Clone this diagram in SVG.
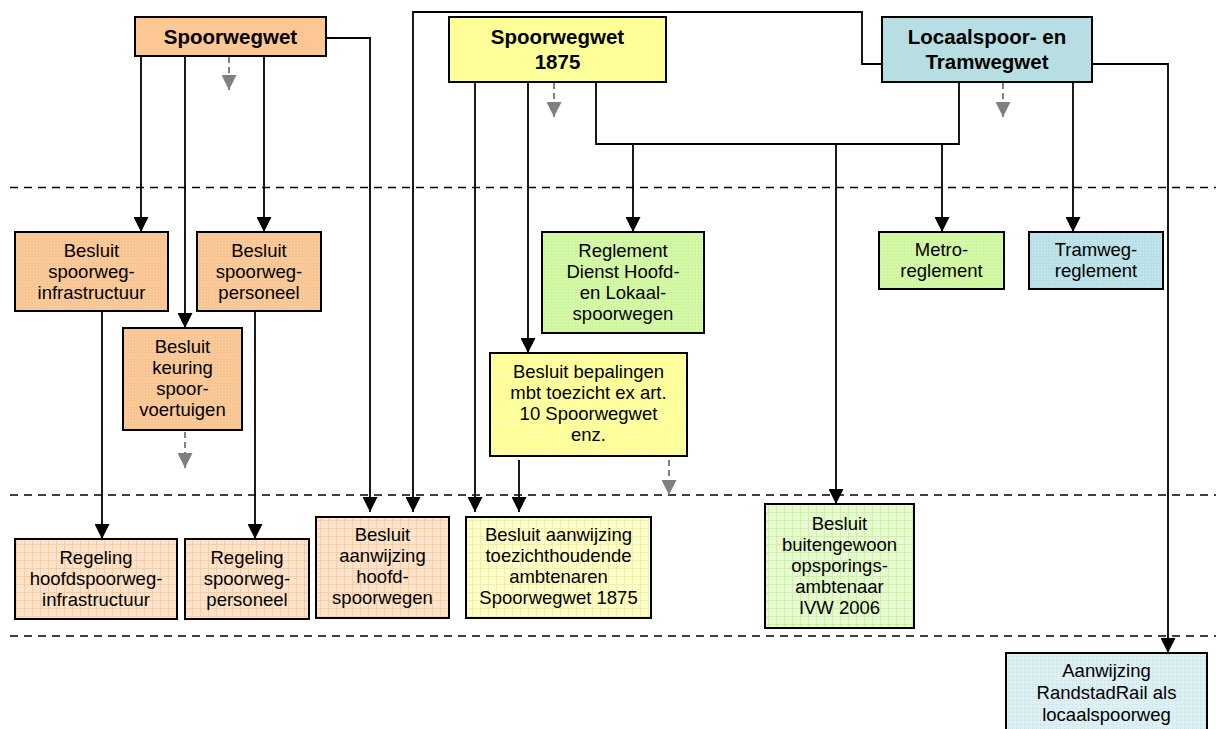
<svg xmlns="http://www.w3.org/2000/svg" width="1216" height="729" viewBox="0 0 1216 729">
<style>
.box{stroke:#000;stroke-width:2}
.t{font-family:"Liberation Sans",Arial,sans-serif;font-size:18.5px;fill:#000;text-anchor:middle}
.h{font-family:"Liberation Sans",Arial,sans-serif;font-size:20.5px;font-weight:bold;fill:#000;text-anchor:middle}
.c{fill:none;stroke:#000;stroke-width:1.8}
.g{fill:none;stroke:#808080;stroke-width:2;stroke-dasharray:6 4}
.sep{fill:none;stroke:#000;stroke-width:1.5;stroke-dasharray:8 6}
</style>
<defs>
<marker id="a" markerUnits="userSpaceOnUse" markerWidth="15" markerHeight="15" viewBox="0 0 15 15" refX="15" refY="7.5" orient="auto"><path d="M0 0 L15 7.5 L0 15 z" fill="#000"/></marker>
<marker id="ag" markerUnits="userSpaceOnUse" markerWidth="15" markerHeight="15" viewBox="0 0 15 15" refX="15" refY="7.5" orient="auto"><path d="M0 0 L15 7.5 L0 15 z" fill="#808080"/></marker>
<pattern id="p2o" width="3" height="3" patternUnits="userSpaceOnUse"><rect width="3" height="3" fill="#F9C593"/><rect width="1" height="1" fill="#FCD8B4"/></pattern>
<pattern id="p2y" width="3" height="3" patternUnits="userSpaceOnUse"><rect width="3" height="3" fill="#FFFF99"/><rect width="1" height="1" fill="#FFFFC4"/></pattern>
<pattern id="p2g" width="3" height="3" patternUnits="userSpaceOnUse"><rect width="3" height="3" fill="#CFF7A0"/><rect width="1" height="1" fill="#E6FBCB"/></pattern>
<pattern id="p2b" width="3" height="3" patternUnits="userSpaceOnUse"><rect width="3" height="3" fill="#B9DFE7"/><rect width="1" height="1" fill="#D6EDF2"/></pattern>
<pattern id="p3o" width="8" height="8" patternUnits="userSpaceOnUse"><rect width="8" height="8" fill="#FDE3CC"/><path d="M0 0.5 H8 M0.5 0 V8" stroke="#F7CDA6" stroke-width="1"/></pattern>
<pattern id="p3y" width="8" height="8" patternUnits="userSpaceOnUse"><rect width="8" height="8" fill="#FFFFCC"/><path d="M0 0.5 H8 M0.5 0 V8" stroke="#F5F0A8" stroke-width="1"/></pattern>
<pattern id="p3g" width="8" height="8" patternUnits="userSpaceOnUse"><rect width="8" height="8" fill="#E6FBD2"/><path d="M0 0.5 H8 M0.5 0 V8" stroke="#CDEFAA" stroke-width="1"/></pattern>
<pattern id="p3b" width="4" height="4" patternUnits="userSpaceOnUse"><rect width="4" height="4" fill="#DCEFF3"/><rect width="1" height="1" fill="#BFE0E8"/></pattern>
</defs>
<rect width="1216" height="729" fill="#fff"/>
<g id="separators">
<path class="sep" d="M10 187.5 H1216"/>
<path class="sep" d="M10 495 H1216"/>
<path class="sep" d="M10 636 H1216"/>
</g>
<g id="connectors">
<path class="c" d="M141 56 V232" marker-end="url(#a)"/>
<path class="c" d="M185 56 V328" marker-end="url(#a)"/>
<path class="c" d="M264 56 V232" marker-end="url(#a)"/>
<path class="g" d="M229 57 V90" marker-end="url(#ag)"/>
<path class="c" d="M326 38 H370 V512" marker-end="url(#a)"/>
<path class="c" d="M882 64 H862 V12 H413 V512" marker-end="url(#a)"/>
<path class="c" d="M475 82 V512" marker-end="url(#a)"/>
<path class="c" d="M528 82 V353" marker-end="url(#a)"/>
<path class="g" d="M554 83 V117" marker-end="url(#ag)"/>
<path class="c" d="M596 82 V144 H959 V82"/>
<path class="c" d="M633 144 V232" marker-end="url(#a)"/>
<path class="c" d="M836 144 V504" marker-end="url(#a)"/>
<path class="c" d="M942 144 V232" marker-end="url(#a)"/>
<path class="g" d="M1003 83 V117" marker-end="url(#ag)"/>
<path class="c" d="M1073 82 V232" marker-end="url(#a)"/>
<path class="c" d="M1092 64 H1168 V653" marker-end="url(#a)"/>
<path class="c" d="M102 311 V539" marker-end="url(#a)"/>
<path class="c" d="M255 311 V539" marker-end="url(#a)"/>
<path class="g" d="M185 432 V468" marker-end="url(#ag)"/>
<path class="c" d="M519 460 V512" marker-end="url(#a)"/>
<path class="g" d="M669 460 V495" marker-end="url(#ag)"/>
</g>
<g id="n-spoorwegwet"><rect class="box" x="135" y="17" width="191" height="39" fill="#FCC793"/><text class="h" x="230.5" y="43.5">Spoorwegwet</text></g>
<g id="n-spoorwegwet1875"><rect class="box" x="449" y="17" width="217" height="65" fill="#FFFF99"/><text class="h" x="557.5" y="44">Spoorwegwet</text><text class="h" x="557.5" y="69">1875</text></g>
<g id="n-locaalspoor"><rect class="box" x="882" y="17" width="210" height="65" fill="#B7DEE3"/><text class="h" x="987" y="44">Locaalspoor- en</text><text class="h" x="987" y="69">Tramwegwet</text></g>
<g id="n-besluit-infra"><rect class="box" x="15" y="232" width="153" height="79" fill="url(#p2o)"/><text class="t" x="91.5" y="256.5">Besluit</text><text class="t" x="91.5" y="277.5">spoorweg-</text><text class="t" x="91.5" y="298.5">infrastructuur</text></g>
<g id="n-besluit-personeel"><rect class="box" x="197" y="232" width="124" height="79" fill="url(#p2o)"/><text class="t" x="259" y="256.5">Besluit</text><text class="t" x="259" y="277.5">spoorweg-</text><text class="t" x="259" y="298.5">personeel</text></g>
<g id="n-besluit-keuring"><rect class="box" x="123" y="328" width="119" height="102" fill="url(#p2o)"/><text class="t" x="182.5" y="352.5">Besluit</text><text class="t" x="182.5" y="373.5">keuring</text><text class="t" x="182.5" y="394.5">spoor-</text><text class="t" x="182.5" y="415.5">voertuigen</text></g>
<g id="n-reglement-dienst"><rect class="box" x="542" y="232" width="162" height="101" fill="url(#p2g)"/><text class="t" x="623" y="256.5">Reglement</text><text class="t" x="623" y="277.5">Dienst Hoofd-</text><text class="t" x="623" y="298.5">en Lokaal-</text><text class="t" x="623" y="319.5">spoorwegen</text></g>
<g id="n-besluit-bepalingen"><rect class="box" x="490" y="353" width="197" height="103" fill="url(#p2y)"/><text class="t" x="588.5" y="378">Besluit bepalingen</text><text class="t" x="588.5" y="399">mbt toezicht ex art.</text><text class="t" x="588.5" y="420">10 Spoorwegwet</text><text class="t" x="588.5" y="441">enz.</text></g>
<g id="n-metro"><rect class="box" x="879" y="232" width="125" height="57" fill="url(#p2g)"/><text class="t" x="941.5" y="256">Metro-</text><text class="t" x="941.5" y="277">reglement</text></g>
<g id="n-tramweg"><rect class="box" x="1029" y="232" width="134" height="57" fill="url(#p2b)"/><text class="t" x="1096" y="256">Tramweg-</text><text class="t" x="1096" y="277">reglement</text></g>
<g id="n-regeling-infra"><rect class="box" x="15" y="539" width="162" height="80" fill="url(#p3o)"/><text class="t" x="96" y="563.5">Regeling</text><text class="t" x="96" y="584.5">hoofdspoorweg-</text><text class="t" x="96" y="605.5">infrastructuur</text></g>
<g id="n-regeling-personeel"><rect class="box" x="185" y="539" width="124" height="80" fill="url(#p3o)"/><text class="t" x="247" y="563.5">Regeling</text><text class="t" x="247" y="584.5">spoorweg-</text><text class="t" x="247" y="605.5">personeel</text></g>
<g id="n-besluit-aanwijzing-hoofd"><rect class="box" x="316" y="517" width="133" height="101" fill="url(#p3o)"/><text class="t" x="382.5" y="541">Besluit</text><text class="t" x="382.5" y="562">aanwijzing</text><text class="t" x="382.5" y="583">hoofd-</text><text class="t" x="382.5" y="604">spoorwegen</text></g>
<g id="n-besluit-toezicht"><rect class="box" x="466" y="517" width="185" height="101" fill="url(#p3y)"/><text class="t" x="558.5" y="541">Besluit aanwijzing</text><text class="t" x="558.5" y="562">toezichthoudende</text><text class="t" x="558.5" y="583">ambtenaren</text><text class="t" x="558.5" y="604">Spoorwegwet 1875</text></g>
<g id="n-besluit-buitengewoon"><rect class="box" x="765" y="504" width="149" height="124" fill="url(#p3g)"/><text class="t" x="839.5" y="529.5">Besluit</text><text class="t" x="839.5" y="550.5">buitengewoon</text><text class="t" x="839.5" y="571.5">opsporings-</text><text class="t" x="839.5" y="592.5">ambtenaar</text><text class="t" x="839.5" y="613.5">IVW 2006</text></g>
<g id="n-randstadrail"><rect class="box" x="1006" y="653" width="201" height="90" fill="url(#p3b)"/><text class="t" x="1106.5" y="677">Aanwijzing</text><text class="t" x="1106.5" y="699">RandstadRail als</text><text class="t" x="1106.5" y="720.5">locaalspoorweg</text></g>
</svg>
